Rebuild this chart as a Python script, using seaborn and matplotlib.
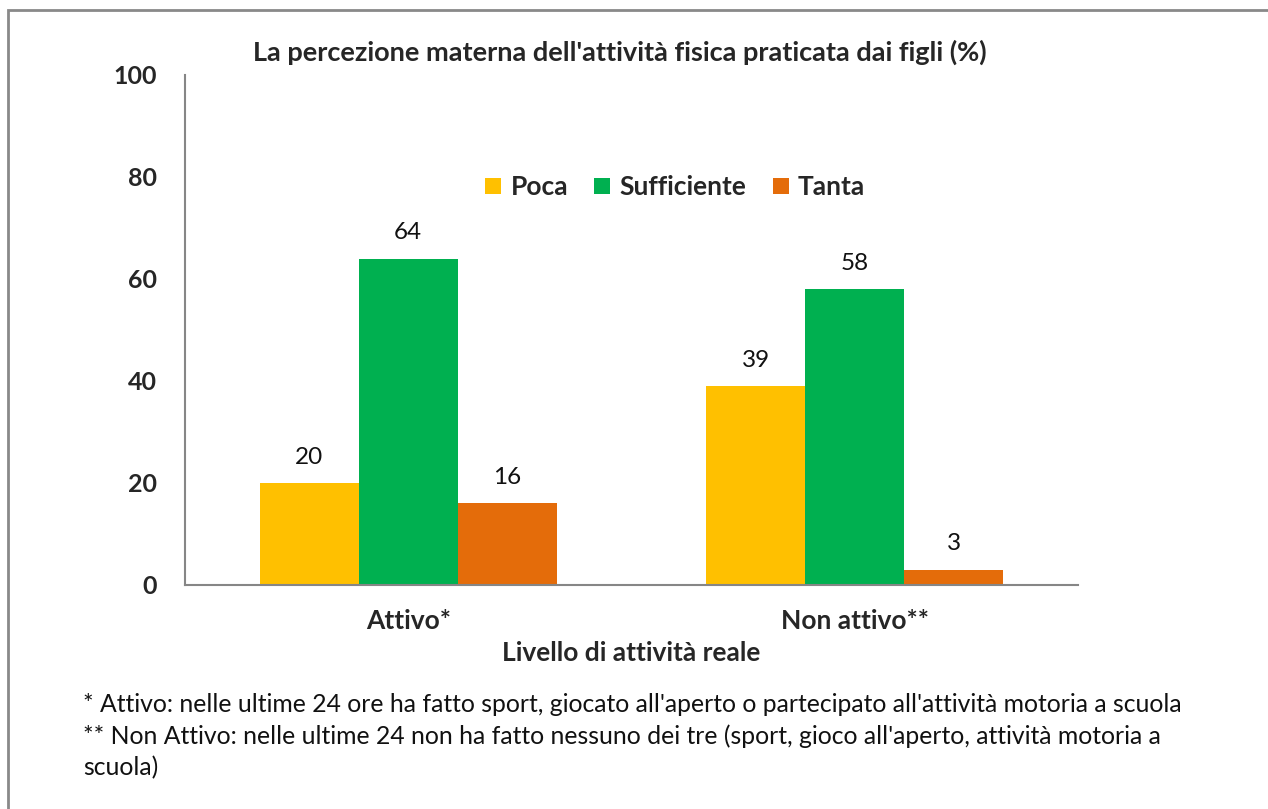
import pandas as pd
import matplotlib.pyplot as plt
import matplotlib.patches as patches
import seaborn as sns

# data
livelli = ["Attivo*", "Non attivo**"]
percezioni = ["Poca", "Sufficiente", "Tanta"]
poca = [20, 39]
sufficiente = [64, 58]
tanta = [16, 3]
colori = ["#FFC000", "#00B050", "#E46C0A"]

rows = []
for i, liv in enumerate(livelli):
    for nome, serie in zip(percezioni, [poca, sufficiente, tanta]):
        rows.append({"livello": liv, "percezione": nome, "valore": serie[i]})
df = pd.DataFrame(rows)

sns.set_style("white")
plt.rcParams["font.family"] = ["Lato", "DejaVu Sans"]

fig = plt.figure(figsize=(12.68, 8.09), dpi=100)
ax = fig.add_axes([185 / 1268, 1 - 585 / 809, 893 / 1268, 510 / 809])

sns.barplot(data=df, x="livello", y="valore", hue="percezione",
            palette=colori, saturation=1, width=0.665, linewidth=0, ax=ax)

for cont in ax.containers:
    ax.bar_label(cont, padding=11, fontsize=17.5, color="#111111")

ax.set_ylim(0, 100)
ax.set_yticks(range(0, 101, 20))
ax.set_xlim(-0.5, 1.5)
ax.set_xticks([-0.5, 0.5, 1.5], minor=False)
ax.set_xticklabels([])
ax.set_xticks([0, 1], minor=True)
ax.set_xticklabels(livelli, minor=True)
ax.tick_params(axis="x", which="minor", length=0, pad=17,
               labelsize=19)
ax.tick_params(axis="x", which="major", length=6, width=1.5, color="#868686")
ax.tick_params(axis="y", length=6, width=1.5, color="#868686", labelsize=18, pad=14)
for lab in ax.get_xticklabels(minor=True) + ax.get_yticklabels():
    lab.set_fontweight("bold")

for s in ["top", "right"]:
    ax.spines[s].set_visible(False)
for s in ["left", "bottom"]:
    ax.spines[s].set_color("#868686")
    ax.spines[s].set_linewidth(1.5)

ax.set_xlabel("Livello di attività reale", fontsize=19, fontweight="bold", labelpad=6)
ax.set_ylabel("")

leg = ax.legend(loc="center", bbox_to_anchor=(0.549, 0.78), ncol=3, frameon=False,
                fontsize=19, handlelength=0.6, handleheight=0.6, handletextpad=0.35,
                columnspacing=1.0)
for t in leg.get_texts():
    t.set_fontweight("bold")

fig.text(620 / 1268, 1 - 52 / 809,
         "La percezione materna dell'attività fisica praticata dai figli (%)",
         ha="center", va="center", fontsize=19.5, fontweight="bold")

note = ["* Attivo: nelle ultime 24 ore ha fatto sport, giocato all'aperto o partecipato all'attività motoria a scuola",
        "** Non Attivo: nelle ultime 24 non ha fatto nessuno dei tre (sport, gioco all'aperto, attività motoria a",
        "scuola)"]
for k, riga in enumerate(note):
    fig.text(83 / 1268, 1 - (704 + 32 * k) / 809, riga, ha="left", va="center",
             fontsize=17.8, color="#111111")

fig.patches.append(patches.Rectangle((8 / 1268, -0.05), 1.2, 1 - 10 / 809 + 0.05,
                                     transform=fig.transFigure, fill=False,
                                     edgecolor="#898989", linewidth=2))

fig.savefig("out.png", dpi=100)
